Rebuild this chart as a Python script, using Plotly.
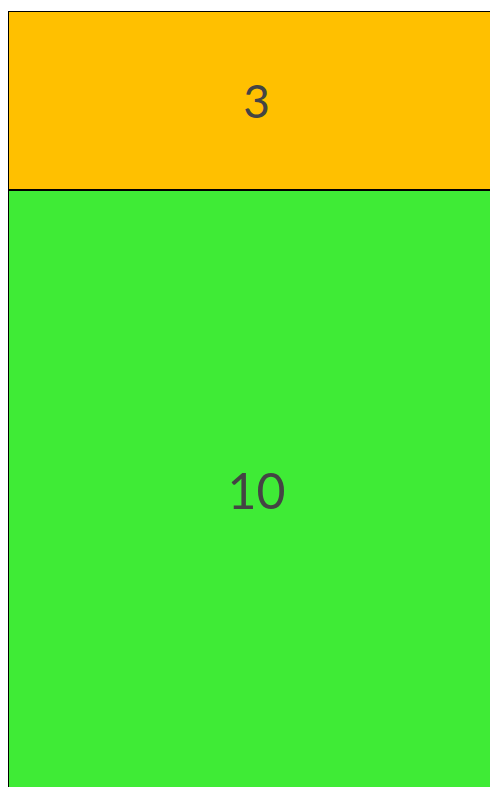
import plotly.graph_objects as go

categories = ["A"]
bottom_values = [10]
top_values = [3]
bottom_color = "#3FEB36"
top_color = "#FFC000"

fig = go.Figure()
fig.add_trace(go.Bar(x=categories, y=bottom_values, marker=dict(color=bottom_color, line=dict(color="black", width=2)),
                     text=[str(v) for v in bottom_values], textposition="inside", insidetextanchor="middle",
                     textfont=dict(size=50, color="#444", family="Lato")))
fig.add_trace(go.Bar(x=categories, y=top_values, marker=dict(color=top_color, line=dict(color="black", width=2)),
                     text=[str(v) for v in top_values], textposition="inside", insidetextanchor="middle",
                     textfont=dict(size=46, color="#444", family="Lato")))
fig.update_layout(barmode="stack", bargap=0, showlegend=False, width=520, height=779,
                  margin=dict(l=0, r=0, t=3, b=0), plot_bgcolor="white", paper_bgcolor="white")
fig.update_xaxes(visible=False, range=[-0.5, 0.5 + (520 - 497) / 497])
fig.update_yaxes(visible=False, range=[0.03, 13])
fig.write_html("out.html", post_script=(
    "document.documentElement.style.overflow='hidden';"
    "document.body.style.overflow='hidden';"))
